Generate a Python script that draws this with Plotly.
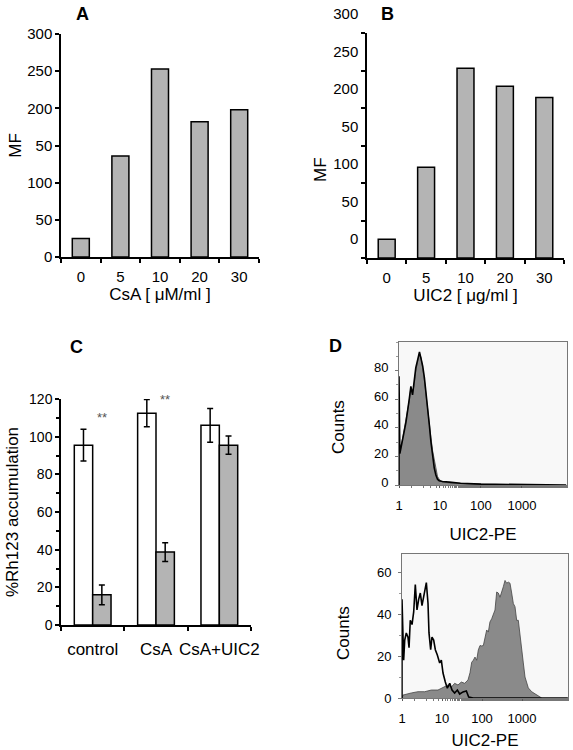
import plotly.graph_objects as go

W, H = 573, 750
FONT = "Liberation Sans, Arial, sans-serif"

# ---------------- data ----------------
# Panel A
a_doses = ["0", "5", "10", "20", "30"]
a_mf = [25, 136, 253, 182, 198]
# Panel B
b_doses = ["0", "5", "10", "20", "30"]
b_mf = [25, 121, 253, 229, 214]
ab_tickvals = [0, 50, 100, 150, 200, 250, 300]
ab_ticktext = ["0", "50", "100", "50", "200", "250", "300"]

# Panel C
c_groups = ["control", "CsA", "CsA+UIC2"]
c_white = [95.5, 112.5, 106]
c_white_err = [8.4, 7.3, 9.0]
c_gray = [16, 38.7, 95.5]
c_gray_err = [5.2, 5.0, 4.8]

# Panel D (top) histograms
d1_fill_x = [1, 1.05, 1.23, 1.48, 1.78, 1.95, 2.14, 2.34, 2.57, 2.88, 3.16, 3.47, 3.80, 4.17, 4.57,
             5.01, 5.50, 6.03, 6.61, 7.24, 7.94, 8.71, 9.55, 11.5, 17.0, 31.6, 100, 316, 1000, 3162]
d1_fill_y = [22, 24, 33, 45, 59, 68, 64, 70, 80, 87, 92, 89, 82, 73, 63,
             52, 42, 33, 24, 17, 11, 6, 4, 2, 1.5, 1, 0.5, 0.3, 0.3, 0]
d1_line_x = [1, 1, 1.05, 1.23, 1.48, 1.78, 1.95, 2.14, 2.34, 2.57, 2.88, 3.16, 3.47, 3.80, 4.17, 4.57,
             5.01, 5.50, 6.03, 6.61, 7.24, 7.94, 8.71, 9.55, 11.5, 17.0, 31.6, 100, 316, 1000, 3162, 12000]
d1_line_y = [0, 76, 22, 31, 44, 60, 69, 63, 71, 82, 88, 93, 88, 83, 75, 65,
             54, 42, 30, 20, 12, 7, 4, 3, 2.5, 2, 1.2, 0.6, 0.4, 0.5, 0.2, 0]

# Panel D (bottom) histograms
d2_line_x = [1, 1, 1.10, 1.17, 1.28, 1.41, 1.50, 1.61, 1.78, 1.96, 2.15, 2.37, 2.61, 2.87, 3.16,
             3.55, 4.06, 4.47, 4.73, 5.21, 5.62, 6.19, 6.81, 7.64, 8.75, 9.62, 10.6, 12.1, 13.6,
             15.6, 17.8, 20.7, 24.2, 27.7, 33.5, 40.6, 46.5, 60, 14000]
d2_line_y = [0, 47, 18, 27.6, 31, 29, 24, 37, 35, 41, 54, 42, 47, 50, 44,
             50, 55, 45, 31, 23, 29, 27.6, 23, 20.5, 16.7, 18, 11.9, 7.6, 4.7,
             7, 3.8, 2.4, 3.8, 1.9, 2.9, 3.3, 0.5, 0, 0]
d2_fill_x = [1, 1.06, 1.71, 2.51, 3.69, 5.41, 7.94, 11.7, 14.1, 17.1, 20.7, 25.1, 30.4, 36.9, 44.7,
             50.1, 55.2, 60.7, 66.8, 73.6, 80.9, 89.1, 98.2, 108, 119, 131, 144, 158, 175, 192,
             211, 233, 256, 282, 310, 341, 376, 414, 455, 501, 552, 607, 668, 736, 809,
             891, 982, 1079, 1189, 1309, 1439, 1746, 2113, 2559, 3105]
d2_fill_y = [0, 1.4, 2.4, 3, 3, 3.8, 3.8, 5.2, 6.2, 5.2, 7, 6.2, 7.6, 7, 8.6,
             12, 17, 18, 19.5, 18, 22.9, 25, 24.8, 25, 28.6, 32.4, 31.4, 36.2, 37.8, 39.5,
             41.9, 50.5, 50, 48, 50, 53, 56, 54.7, 55.2, 54.7, 50, 45, 43.5, 37, 37,
             29, 22.9, 16.7, 10, 7, 4.8, 3, 1.9, 1, 0]
d_tickvals = [1, 10, 100, 1000]
d_ticktext = ["1", "10", "100", "1000"]

# ---------------- helpers ----------------
def xd(a, b):
    return [a / W, b / W]

def yd(top, bottom):
    return [1 - bottom / H, 1 - top / H]

BAR_GRAY = "#b4b4b4"
HIST_GRAY = "#8a8a8a"

fig = go.Figure()

# Panel A
fig.add_trace(go.Bar(x=a_doses, y=a_mf, width=0.43, marker=dict(color=BAR_GRAY, line=dict(color="black", width=1.5)),
                     xaxis="x", yaxis="y", showlegend=False))
# Panel B
fig.add_trace(go.Bar(x=b_doses, y=b_mf, width=0.43, marker=dict(color=BAR_GRAY, line=dict(color="black", width=1.5)),
                     xaxis="x2", yaxis="y2", showlegend=False))
# Panel C
fig.add_trace(go.Bar(x=c_groups, y=c_white, width=0.29, offset=-0.29,
                     marker=dict(color="white", line=dict(color="black", width=1.5)),
                     error_y=dict(type="data", array=c_white_err, color="black", thickness=1.5, width=3),
                     xaxis="x3", yaxis="y3", showlegend=False))
fig.add_trace(go.Bar(x=c_groups, y=c_gray, width=0.29, offset=0,
                     marker=dict(color=BAR_GRAY, line=dict(color="black", width=1.5)),
                     error_y=dict(type="data", array=c_gray_err, color="black", thickness=1.5, width=3),
                     xaxis="x3", yaxis="y3", showlegend=False))
# Panel D top
fig.add_trace(go.Scatter(x=d1_fill_x, y=d1_fill_y, mode="lines", fill="tozeroy", fillcolor=HIST_GRAY,
                         line=dict(color="#444", width=0.8), xaxis="x4", yaxis="y4", showlegend=False))
fig.add_trace(go.Scatter(x=d1_line_x, y=d1_line_y, mode="lines", line=dict(color="black", width=1.6),
                         xaxis="x4", yaxis="y4", showlegend=False))
# Panel D bottom
fig.add_trace(go.Scatter(x=d2_fill_x, y=d2_fill_y, mode="lines", fill="tozeroy", fillcolor=HIST_GRAY,
                         line=dict(color="#444", width=0.8), xaxis="x5", yaxis="y5", showlegend=False))
fig.add_trace(go.Scatter(x=d2_line_x, y=d2_line_y, mode="lines", line=dict(color="black", width=1.6),
                         xaxis="x5", yaxis="y5", showlegend=False))

tick_font = dict(family=FONT, size=15, color="black")
title_font = dict(family=FONT, size=17, color="black")

cat_x = dict(type="category", tickson="boundaries", ticks="outside", ticklen=4, tickwidth=1.5,
             showline=True, linecolor="black", linewidth=1.5, showgrid=False, zeroline=False,
             tickfont=tick_font, tickcolor="black", automargin=False, tickangle=0,
             ticklabelstandoff=5)
ab_y = dict(range=[0, 300], tickvals=ab_tickvals, ticktext=ab_ticktext, ticks="outside", ticklen=4,
            tickwidth=1.5, tickcolor="black", showline=True, linecolor="black", linewidth=1.5,
            showgrid=False, zeroline=False, tickfont=tick_font, automargin=False)

d_x = dict(type="log", tickvals=d_tickvals, ticktext=d_ticktext, ticks="outside", ticklen=2,
           tickcolor="#555", showline=True, mirror=True, linecolor="#777", linewidth=1,
           showgrid=False, zeroline=False, tickfont=dict(family=FONT, size=13, color="black"),
           minor=dict(ticks="outside", ticklen=2, tickcolor="#777", showgrid=False),
           ticklabelstandoff=6, automargin=False, tickangle=0)
d_y = dict(ticks="outside", ticklen=3, tickcolor="#777", showline=True, mirror=True, linecolor="#777",
           linewidth=1, showgrid=False, zeroline=False, tickfont=dict(family=FONT, size=13, color="black"),
           minor=dict(ticks="outside", ticklen=2, tickcolor="#999", dtick=10), ticklabelstandoff=4,
           automargin=False)

fig.update_layout(
    width=W, height=H, margin=dict(l=0, r=0, t=0, b=0, autoexpand=False),
    paper_bgcolor="white", plot_bgcolor="white",
    font=dict(family=FONT, color="black"),
    barmode="overlay",
    xaxis=dict(cat_x, domain=xd(61, 259), anchor="y", range=[-0.5, 4.5],
               title=dict(text="CsA [ μM/ml ]", font=title_font, standoff=4)),
    yaxis=dict(ab_y, domain=yd(34, 257), anchor="x",
               title=dict(text="MF", font=title_font, standoff=1)),
    xaxis2=dict(cat_x, domain=xd(367, 564), anchor="y2", range=[-0.5, 4.5],
                title=dict(text="UIC2 [ μg/ml ]", font=title_font, standoff=4)),
    yaxis2=dict(ab_y, domain=yd(33, 258), anchor="x2", ticklabelshift=-19),
    xaxis3=dict(cat_x, domain=xd(61, 251), anchor="y3", range=[-0.5, 2.5],
                tickfont=dict(family=FONT, size=17, color="black"), ticklabelstandoff=8),
    yaxis3=dict(range=[0, 120], dtick=20, ticks="outside", ticklen=4, tickwidth=1.5, tickcolor="black",
                minor=dict(ticks="outside", ticklen=3, dtick=10, tickcolor="black", tickwidth=1.5),
                showline=True, linecolor="black", linewidth=1.5, showgrid=False, zeroline=False,
                tickfont=dict(family=FONT, size=14, color="black"), anchor="x3",
                domain=yd(399, 625), automargin=False,
                title=dict(text="%Rh123 accumulation", font=title_font, standoff=6)),
    xaxis4=dict(d_x, domain=xd(399, 567), anchor="y4", range=[0, 4.1],
                title=dict(text="UIC2-PE", font=title_font, standoff=16)),
    yaxis4=dict(d_y, domain=yd(342, 485), anchor="x4", range=[0, 100],
                tickvals=[0, 20, 40, 60, 80], ticklabelshift=-3),
    xaxis5=dict(d_x, domain=xd(402, 568), anchor="y5", range=[0, 4.15],
                title=dict(text="UIC2-PE", font=title_font, standoff=10)),
    yaxis5=dict(d_y, domain=yd(554, 698), anchor="x5", range=[0, 68.6],
                tickvals=[0, 20, 40, 60]),
)

shapes = []
for ax in ["x4", "x5"]:
    ya = "y" + ax[1:]
    shapes.append(dict(type="rect", xref=f"{ax} domain", yref=f"{ya} domain", x0=0, x1=1, y0=0, y1=1,
                       fillcolor="#f8f8f8", line=dict(width=0), layer="below"))
fig.update_layout(shapes=shapes)

ann = []
def panel_label(text, px, py):
    ann.append(dict(text=f"<b>{text}</b>", x=px / W, y=1 - py / H, xref="paper", yref="paper",
                    showarrow=False, font=dict(family=FONT, size=18, color="black"),
                    xanchor="center", yanchor="middle"))

panel_label("A", 82, 14)
panel_label("B", 387, 14)
panel_label("C", 76, 347)
panel_label("D", 335, 346)

def paper_text(text, px, py, size=17, angle=0):
    ann.append(dict(text=text, x=px / W, y=1 - py / H, xref="paper", yref="paper", showarrow=False,
                    textangle=angle, font=dict(family=FONT, size=size, color="black"),
                    xanchor="center", yanchor="middle"))

paper_text("MF", 320, 170, angle=-90)
paper_text("Counts", 338, 427, angle=-90)
paper_text("Counts", 343, 633, angle=-90)

# significance stars over panel C gray bars
ann.append(dict(text="**", x=0.145, y=110, xref="x3", yref="y3", showarrow=False,
                font=dict(family=FONT, size=13, color="#555"), yanchor="middle"))
ann.append(dict(text="**", x=1.145, y=120, xref="x3", yref="y3", showarrow=False,
                font=dict(family=FONT, size=13, color="#555"), yanchor="middle"))
fig.update_layout(annotations=ann)

fig.write_html("out.html", config={"displayModeBar": False},
               post_script="document.body.style.margin='0';document.body.style.padding='0';")
